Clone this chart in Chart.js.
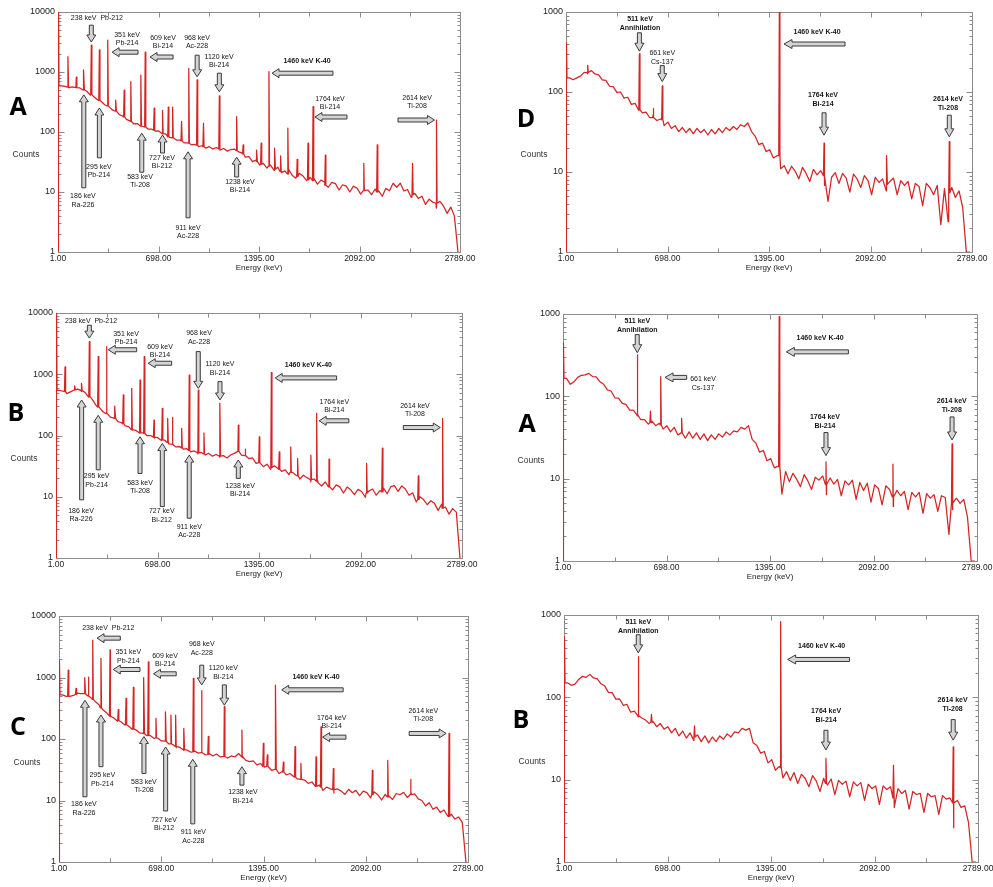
<!DOCTYPE html>
<html><head><meta charset="utf-8">
<script src="https://cdn.jsdelivr.net/npm/chart.js"></script>
<style>
html,body{margin:0;padding:0;background:#fff;}
#wrap{position:relative;width:993px;height:887px;overflow:hidden;background:#fff;}
canvas{position:absolute;left:0;top:0;}
</style></head><body><div id="wrap">
<canvas id="pLA" width="993" height="887"></canvas>
<canvas id="pLB" width="993" height="887"></canvas>
<canvas id="pLC" width="993" height="887"></canvas>
<canvas id="pRD" width="993" height="887"></canvas>
<canvas id="pRA" width="993" height="887"></canvas>
<canvas id="pRB" width="993" height="887"></canvas>
</div>
<script>
// ---------------- DATA ----------------
const xTickValues = [1, 698, 1395, 2092, 2789];
const xMinorValues = [349.5, 1046.5, 1743.5, 2440.5];
const yTicksLeft = [1, 10, 100, 1000, 10000];
const yTicksRight = [1, 10, 100, 1000];

const energyGrid = [1,25,50,75,100,125,150,175,200,225,250,275,300,325,350,375,400,425,450,475,500,
525,550,575,600,625,650,675,700,725,750,775,800,825,850,875,900,925,950,975,1000,
1025,1050,1075,1100,1125,1150,1175,1200,1225,1250,1275,1300,1325,1350,1375,1400,1425,1450,1475,1500,
1525,1550,1575,1600,1625,1650,1675,1700,1725,1750,1775,1800,1825,1850,1875,1900,1925,1950,1975,2000,
2025,2050,2075,2100,2125,2150,2175,2200,2225,2250,2275,2300,2325,2350,2375,2400,2425,2450,2475,2500,
2525,2550,2575,2600,2625,2650,2675,2700,2725,2750,2775];

const countsLeftA = [1,
585,575,548,566,548,545,500,478,412,386,
344,326,284,270,236,224,196,184,162,153,
137,138,125,122,112,112,103,104,93,92,
81,80,73,73,66,66,61,62,57,59,
54,57,52,55,50,53,48,51,52,47,
45,38,39,32,34,28,30,25,28,23,
26,21,22.5,24,19,17,20.5,18.5,15.5,17.5,
17,13.5,15.8,14.5,12,14.5,13.8,10.8,13.2,12.5,
10,12.5,11.6,9.2,11.8,10.8,9,11.2,10.4,8.5,
11.5,10.5,14,12,14,10.4,11,8.2,9.5,7.8,
8.5,6.2,7.6,6.8,5.4,7,5.8,4.4,5.6,4,
1];
const countsLeftB = [1,
545,528,482,515,552,572,522,506,422,388,
314,286,242,230,200,192,168,163,144,140,
122,121,109,110,100,100,91,92,83,83,
73,73,65,66,60,61,54,56,50,53,
48,51,46,49,44,47,43,48,51,56,
48,47,42,43,35,37,31,34,28,32,
29,26,27.5,23,25,22.5,19.5,22.5,20.5,17.5,
19.5,17,15,17.5,15.5,13,15.6,14.5,11.5,14.4,
13,10.8,13.2,12.2,9.8,12.4,13.4,10.6,12.6,13.8,
11.2,14.6,15.2,12.2,15,13.4,10.6,11.6,8.2,10,
9,7.4,8.6,7.8,6,7.6,6.8,5.2,6.4,5.6,
1];
const countsLeftC = [1,
522,494,492,512,556,546,545,498,456,402,
356,298,268,229,220,195,189,168,163,144,
141,126,124,113,113,102,103,93,93,83,
82,72,73,65,66,61,64,59,61,55,
58,53,57,51,54,49,53,51,58,50,
45,43,44,38,40,35,37,31,33,27.5,
30,26,27.5,24.5,22.5,25,21.5,19,20,17.2,
17.8,14.6,16.5,15.5,13.2,15.4,14.2,12.6,15.2,13.4,
14.6,12,14.2,13.4,11,13.8,12.4,10.2,12.6,11.8,
10.4,13,12.4,13.6,11.2,14.2,12.8,10.6,10,8.2,
9.2,7.2,7.8,6.4,7,5.6,6,5,5.4,4.4,
1];
const countsRightD = [1,
150,142,150,158,176,170,185,168,164,142,
140,118,117,99,100,84,86,70,72,59,
55,56,48,52,44,46,38,42,35,38,
32,36,31,35,30,35,31,34,29,34,
30,35,31,36,33,37,34,39,37,41,
32,28,22,23,18,19,15,16,11,12,
9.5,11.8,10.2,8.2,11.4,9.6,7.6,10.8,9.2,10.4,
6.8,4.3,8.6,9.8,7.2,9.6,8.4,5.6,9.4,8.2,
6.4,9,7.8,5.2,8.6,7.4,8.2,5.8,7.6,8.4,
5.2,7.8,6.8,7.6,4.6,7.2,6.6,3.8,7.2,6.4,
5.2,6.8,2.2,6.2,2.4,6.4,4.8,5.8,3.6,1,
1];
const countsRightA = [1,
165,140,150,170,180,182,190,174,172,150,
140,120,116,96,95,82,80,68,68,58,
52,52,46,50,44,47,40,44,37,42,
34,38,31,37,31,36,30,35,29,34,
30,35,32,37,34,38,37,42,40,44,
30,27,21,22,16.5,17.5,13.5,14.2,6.5,12.2,
9.2,11.6,9.8,8,11.2,9.4,7.4,10.4,9.6,10.8,
6.4,10.2,8.6,9.8,6.2,9.4,8.4,9.6,5.6,9,
7.2,8.8,5.2,8.4,7.6,4.8,8.2,7.4,4.6,7.2,
6.2,7,4.2,6.8,6,6.8,3.8,6.6,5.8,6.4,
4,6.2,5.9,2.1,4.2,5.8,5,5.6,3.4,1,
1];
const countsRightB = [1,
150,140,145,165,180,175,190,172,168,146,
138,115,114,95,96,80,82,66,68,58,
56,53,48,51,44,48,41,44,37,42,
34,39,32,37,30,35,29,34,28,33,
29,34,31,36,33,38,37,42,40,42,
28,26,21,22,16,17.5,13,14.5,10.5,12.5,
9.8,12.2,9,11.6,10.4,8.2,11.2,9.6,7.2,10.4,
8.6,10.2,6.6,9.8,8.8,9.6,6.2,9.4,8.4,9.2,
5.6,8.8,7.8,8.4,5,8.4,7.6,8.2,4.6,7.8,
6.8,7.4,4.4,7.2,6.6,6.8,4,6.8,6.2,6.4,
3.8,6.4,5.8,6,2.6,5.6,4.6,4.8,3,1,
1];

// peaks: [energy keV, peak counts, local continuum counts]
const peaksLeftA = [[4,20000,590],[70,1800,560],[128,820,550],[180,1080,505],[232,2800,420],[288,2340,335],[346,3400,272],[402,340,222],[460,500,178],[506,690,150],[576,890,126],[606,2150,121],[668,250,107],[726,230,94],[766,260,83],[796,260,80],[858,150,71],[908,1150,65],[966,740,60],[1010,140,57],[1120,400,52],[1240,180,49],[1285,61,43],[1380,50,32],[1410,65,29],[1464,1010,27],[1505,54,24],[1545,40,22],[1595,116,20],[1660,35,18],[1735,65,16],[1770,265,15.5],[1855,41,13],[2122,30,10.5],[2215,61,10],[2460,30,9],[2626,158,6.5]];
const peaksLeftB = [[4,20000,545],[63,1320,520],[131,643,555],[177,710,540],[230,3400,430],[291,1940,290],[349,2820,228],[406,303,190],[463,459,155],[521,590,125],[578,805,110],[607,1940,108],[674,179,94],[731,278,85],[768,190,77],[800,197,72],[864,131,63],[916,972,57],[978,553,52],[1017,110,50],[1127,336,46],[1253,148,55],[1300,60,47],[1397,95,36],[1480,1060,30],[1534,54,28],[1613,65,25],[1660,42,22],[1752,48,19],[1791,230,18],[1876,41,14.5],[2134,35,11.5],[2242,62,12],[2489,22,9],[2656,190,6.5]];
const peaksLeftC = [[4,1900,520],[64,1320,495],[117,665,530],[178,1000,545],[201,1010,500],[231,4070,440],[287,2040,320],[349,2800,235],[405,300,200],[458,458,170],[508,690,145],[580,1000,122],[610,1800,114],[662,217,104],[728,277,92],[764,245,83],[796,245,76],[853,149,67],[917,970,62],[974,610,60],[1019,110,56],[1128,335,52],[1248,140,52],[1394,85,36],[1421,55,36],[1478,755,32],[1530,42,29],[1610,75,24],[1650,40,22],[1753,51,17],[1787,158,16.5],[1871,33,15],[2137,31,12.5],[2242,45,11.5],[2399,22,12.5],[2660,123,5.5]];
const peaksRightD = [[4,410,150],[150,215,175],[505,300,60],[600,62,48],[662,119,45],[1466,1000,16],[1773,23,9],[2204,16,7],[2633,24,5.5]];
const peaksRightA = [[4,445,165],[501,318,60],[590,66,48],[659,174,45],[800,54,36],[1457,930,14],[1772,16,8.5],[2223,15,6],[2621,26.4,5]];
const peaksRightB = [[4,545,150],[501,312,60],[590,62,50],[880,45,33],[1460,830,14],[1765,18.2,9],[2220,15,6],[2622,25,5.2]];

// annotations: labels [lines, energy, log10(counts), bold]; arrows [tailE, tailLog, tipE, tipLog]
const labelsLeftA = [[['238 keV  Pb-212'],271,3.90],[['351 keV','Pb-214'],480,3.62],[['609 keV','Bi-214'],729,3.57],[['968 keV','Ac-228'],965,3.57],[['1120 keV','Bi-214'],1118,3.25],[['186 keV','Ra-226'],174,0.93],[['295 keV','Pb-214'],285,1.42],[['583 keV','Ti-208'],570,1.25],[['727 keV','Bi-212'],722,1.57],[['911 keV','Ac-228'],903,0.40],[['1238 keV','Bi-214'],1263,1.17],[['1460 keV K-40'],1728,3.18,1],[['1764 keV','Bi-214'],1887,2.55],[['2614 keV','Ti-208'],2491,2.57]];
const arrowsLeftA = [[232,3.78,232,3.50],[556,3.33,376,3.33],[799,3.25,639,3.25],[966,3.28,966,2.92],[1120,2.98,1120,2.67],[180,1.07,180,2.62],[288,1.57,288,2.40],[582,1.33,582,1.98],[726,1.65,726,1.95],[903,0.57,903,1.67],[1240,1.25,1240,1.58],[1908,2.98,1485,2.98],[2005,2.25,1783,2.25],[2359,2.20,2612,2.20]];
const labelsLeftB = [[['238 keV  Pb-212'],241,3.87],[['351 keV','Pb-214'],482,3.66],[['609 keV','Bi-214'],715,3.45],[['968 keV','Ac-228'],983,3.67],[['1120 keV','Bi-214'],1127,3.16],[['186 keV','Ra-226'],173,0.77],[['295 keV','Pb-214'],280,1.33],[['583 keV','Ti-208'],578,1.23],[['727 keV','Bi-212'],727,0.76],[['911 keV','Ac-228'],916,0.51],[['1238 keV','Bi-214'],1265,1.18],[['1460 keV K-40'],1734,3.15,1],[['1764 keV','Bi-214'],1912,2.55],[['2614 keV','Tl-208'],2466,2.48]];
const arrowsLeftB = [[230,3.80,230,3.59],[555,3.40,360,3.40],[795,3.18,634,3.18],[978,3.37,978,2.77],[1127,2.88,1127,2.58],[177,0.95,177,2.58],[291,1.44,291,2.33],[578,1.38,578,1.98],[731,0.84,731,1.87],[916,0.65,916,1.68],[1253,1.30,1253,1.60],[1928,2.94,1506,2.94],[2012,2.24,1808,2.24],[2386,2.13,2640,2.13]];
const labelsLeftC = [[['238 keV  Pb-212'],337,3.80],[['351 keV','Pb-214'],473,3.41],[['609 keV','Bi-214'],724,3.35],[['968 keV','Ac-228'],974,3.54],[['1120 keV','Bi-214'],1121,3.15],[['186 keV','Ra-226'],171,0.94],[['295 keV','Pb-214'],296,1.41],[['583 keV','Ti-208'],580,1.30],[['727 keV','Bi-212'],717,0.69],[['911 keV','Ac-228'],917,0.48],[['1238 keV','Bi-214'],1255,1.13],[['1460 keV K-40'],1753,3.00,1],[['1764 keV','Bi-214'],1860,2.34],[['2614 keV','Ti-208'],2484,2.46]];
const arrowsLeftC = [[419,3.64,260,3.64],[553,3.13,371,3.13],[800,3.06,645,3.06],[974,3.20,974,2.88],[1128,2.88,1128,2.55],[178,1.06,178,2.63],[287,1.55,287,2.39],[580,1.44,580,2.04],[728,0.83,728,1.87],[913,0.62,913,1.67],[1248,1.25,1248,1.55],[1938,2.80,1519,2.80],[1957,2.03,1798,2.03],[2388,2.09,2640,2.09]];
const labelsRightD = [[['511 keV','Annihilation'],509,2.91,1],[['661 keV','Cs-137'],662,2.49],[['1460 keV K-40'],1725,2.75,1],[['1764 keV','Bi-214'],1766,1.96,1],[['2614 keV','Ti-208'],2624,1.91,1]];
const arrowsRightD = [[505,2.74,505,2.51],[662,2.33,662,2.13],[1917,2.60,1498,2.60],[1773,1.74,1773,1.46],[2633,1.71,2633,1.44]];
const labelsRightA = [[['511 keV','Annihilation'],501,2.91,1],[['661 keV','Cs-137'],944,2.21],[['1460 keV K-40'],1732,2.71,1],[['1764 keV','Bi-214'],1765,1.75,1],[['2614 keV','Ti-208'],2619,1.94,1]];
const arrowsRightA = [[501,2.75,501,2.53],[834,2.23,688,2.23],[1923,2.54,1505,2.54],[1772,1.56,1772,1.28],[2621,1.75,2621,1.47]];
const labelsRightB = [[['511 keV','Annihilation'],501,2.91,1],[['1460 keV K-40'],1736,2.62,1],[['1764 keV','Bi-214'],1766,1.83,1],[['2614 keV','Tl-208'],2618,1.97,1]];
const arrowsRightB = [[501,2.76,501,2.54],[1924,2.46,1507,2.46],[1765,1.60,1765,1.36],[2622,1.73,2622,1.48]];

// ---------------- LAYOUT / STYLE ----------------
const FF = '"Liberation Sans", Arial, sans-serif';
const panels = [
  {id:'pLA', letter:'A', area:[58,12,460,252],  yTicks:yTicksLeft,  counts:countsLeftA,  peaks:peaksLeftA,  labels:labelsLeftA,  arrows:arrowsLeftA,  lx:-40, ly:0.40, lh:8.4, right:false},
  {id:'pLB', letter:'B', area:[56,313,462,558], yTicks:yTicksLeft,  counts:countsLeftB,  peaks:peaksLeftB,  labels:labelsLeftB,  arrows:arrowsLeftB,  lx:-40, ly:0.41, lh:8.4, right:false},
  {id:'pLC', letter:'C', area:[59,616,468,862], yTicks:yTicksLeft,  counts:countsLeftC,  peaks:peaksLeftC,  labels:labelsLeftC,  arrows:arrowsLeftC,  lx:-41, ly:0.455, lh:8.4, right:false},
  {id:'pRD', letter:'D', area:[566,12,972,252], yTicks:yTicksRight, counts:countsRightD, peaks:peaksRightD, labels:labelsRightD, arrows:arrowsRightD, lx:-40, ly:0.45, lh:9, right:true},
  {id:'pRA', letter:'A', area:[563,314,977,561],yTicks:yTicksRight, counts:countsRightA, peaks:peaksRightA, labels:labelsRightA, arrows:arrowsRightA, lx:-36, ly:0.45, lh:9, right:true},
  {id:'pRB', letter:'B', area:[564,615,978,862],yTicks:yTicksRight, counts:countsRightB, peaks:peaksRightB, labels:labelsRightB, arrows:arrowsRightB, lx:-43, ly:0.43, lh:9, right:true}
];
const panelById = {};
panels.forEach(p => panelById[p.id] = p);

function buildSeries(counts, peaks) {
  const pts = energyGrid.map((e, i) => ({x: e, y: counts[i]}));
  peaks.forEach(([e, h, b]) => { pts.push({x: e - 4, y: b}, {x: e, y: h}, {x: e + 4, y: b}); });
  pts.sort((a, b) => a.x - b.x);
  return pts;
}

function drawArrow(ctx, x1, y1, x2, y2, sw, hw, hl) {
  const dx = x2 - x1, dy = y2 - y1, len = Math.hypot(dx, dy);
  if (len < 1) return;
  const ux = dx / len, uy = dy / len, nx = -uy, ny = ux;
  const h = Math.min(hl, len * 0.8);
  const bx = x2 - ux * h, by = y2 - uy * h;
  ctx.beginPath();
  ctx.moveTo(x1 + nx * sw / 2, y1 + ny * sw / 2);
  ctx.lineTo(bx + nx * sw / 2, by + ny * sw / 2);
  ctx.lineTo(bx + nx * hw / 2, by + ny * hw / 2);
  ctx.lineTo(x2, y2);
  ctx.lineTo(bx - nx * hw / 2, by - ny * hw / 2);
  ctx.lineTo(bx - nx * sw / 2, by - ny * sw / 2);
  ctx.lineTo(x1 - nx * sw / 2, y1 - ny * sw / 2);
  ctx.closePath();
  ctx.fillStyle = '#d4d4d4';
  ctx.fill();
  ctx.strokeStyle = '#3a3a3a';
  ctx.lineWidth = 1;
  ctx.stroke();
}

const specPlugin = {
  id: 'spec',
  beforeDatasetsDraw(chart) {
    const p = panelById[chart.canvas.id];
    const ctx = chart.ctx, a = chart.chartArea, xs = chart.scales.x, ys = chart.scales.y;
    ctx.save();
    ctx.strokeStyle = '#8c8c8c';
    ctx.lineWidth = 1;
    const L = Math.round(a.left) + 0.5, T = Math.round(a.top) + 0.5, R = Math.round(a.right) + 0.5, B = Math.round(a.bottom) + 0.5;
    ctx.strokeRect(L, T, R - L, B - T);
    ctx.beginPath();
    xTickValues.forEach(v => { const x = Math.round(xs.getPixelForValue(v)) + 0.5; ctx.moveTo(x, B); ctx.lineTo(x, B - 6); ctx.moveTo(x, T); ctx.lineTo(x, T + 5); });
    xMinorValues.forEach(v => { const x = Math.round(xs.getPixelForValue(v)) + 0.5; ctx.moveTo(x, B); ctx.lineTo(x, B - 4); ctx.moveTo(x, T); ctx.lineTo(x, T + 4); });
    const top = p.yTicks[p.yTicks.length - 1];
    for (let d = 1; d < top; d *= 10) {
      for (let m = 1; m <= 9; m++) {
        const y = Math.round(ys.getPixelForValue(m * d)) + 0.5;
        const len = m === 1 ? 6 : 3;
        ctx.moveTo(L, y); ctx.lineTo(L + len, y);
        ctx.moveTo(R, y); ctx.lineTo(R - len, y);
      }
    }
    ctx.stroke();
    ctx.restore();
  },
  afterDatasetsDraw(chart) {
    const p = panelById[chart.canvas.id];
    const ctx = chart.ctx, a = chart.chartArea, xs = chart.scales.x, ys = chart.scales.y;
    ctx.save();
    p.arrows.forEach(([e1, l1, e2, l2]) => {
      const x1 = xs.getPixelForValue(e1), y1 = ys.getPixelForValue(Math.pow(10, l1));
      const x2 = xs.getPixelForValue(e2), y2 = ys.getPixelForValue(Math.pow(10, l2));
      if (p.right) drawArrow(ctx, x1, y1, x2, y2, 4, 9, 8);
      else drawArrow(ctx, x1, y1, x2, y2, 4, 9, 7);
    });
    ctx.fillStyle = '#151515';
    ctx.textAlign = 'center';
    ctx.textBaseline = 'middle';
    p.labels.forEach(([lines, e, lg, bold]) => {
      ctx.font = (bold ? 'bold ' : '') + '7px ' + FF;
      const x = xs.getPixelForValue(e), y = ys.getPixelForValue(Math.pow(10, lg));
      lines.forEach((t, i) => ctx.fillText(t, x, y + i * p.lh));
    });
    const h = a.bottom - a.top;
    ctx.fillStyle = '#333';
    ctx.font = '8.5px ' + FF;
    ctx.fillText('Counts', a.left - 32, a.top + 0.595 * h);
    ctx.fillStyle = '#000';
    ctx.font = 'bold 25px "Open Sans", "Liberation Sans", Arial, sans-serif';
    ctx.fillText(p.letter, a.left + p.lx, a.top + p.ly * h);
    ctx.restore();
  }
};

Chart.defaults.font.family = FF;
const YW = 40, XH = 21;
panels.forEach(p => {
  const [L, T, R, B] = p.area;
  new Chart(document.getElementById(p.id), {
    type: 'line',
    data: {datasets: [{data: buildSeries(p.counts, p.peaks), borderColor: 'rgb(212,36,36)', borderWidth: 1.25, borderJoinStyle: 'round', pointRadius: 0, tension: 0, fill: false}]},
    options: {
      responsive: false, animation: false, events: [],
      layout: {padding: {left: L - YW, top: T, right: 993 - R, bottom: 887 - B - XH}},
      plugins: {legend: {display: false}, tooltip: {enabled: false}},
      scales: {
        x: {
          type: 'linear', min: 1, max: 2789,
          afterBuildTicks: s => { s.ticks = xTickValues.map(v => ({value: v})); },
          afterFit: s => { s.height = XH; s.paddingLeft = 0; s.paddingRight = 0; },
          grid: {display: false, drawTicks: false}, border: {display: false},
          ticks: {autoSkip: false, maxRotation: 0, padding: 2, color: '#222', font: {family: FF, size: 8.5}, callback: v => Number(v).toFixed(2)},
          title: {display: true, text: 'Energy (keV)', color: '#222', font: {family: FF, size: 8}, padding: 0}
        },
        y: {
          type: 'logarithmic', min: 1, max: p.yTicks[p.yTicks.length - 1],
          afterBuildTicks: s => { s.ticks = p.yTicks.map(v => ({value: v})); },
          afterFit: s => { s.width = YW; s.paddingTop = 0; s.paddingBottom = 0; },
          grid: {display: false, drawTicks: false}, border: {display: false},
          ticks: {autoSkip: false, padding: 3, color: '#222', font: {family: FF, size: 9}, callback: v => String(v)}
        }
      }
    },
    plugins: [specPlugin]
  });
});
</script></body></html>
